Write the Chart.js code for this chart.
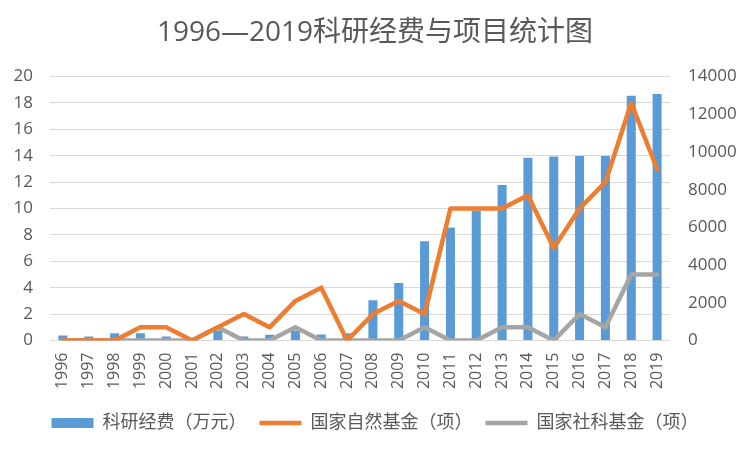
<!DOCTYPE html>
<html>
<head>
<meta charset="utf-8">
<script src="https://cdn.jsdelivr.net/npm/chart.js@4/dist/chart.umd.min.js"></script>
<style>
html,body{margin:0;padding:0;background:#fff;}
#wrap{width:750px;height:453px;position:relative;}
</style>
</head>
<body>
<div id="wrap"><canvas id="c" width="750" height="453"></canvas></div>
<script>
const years = ['1996','1997','1998','1999','2000','2001','2002','2003','2004','2005','2006','2007','2008','2009','2010','2011','2012','2013','2014','2015','2016','2017','2018','2019'];
const funding = [260, 210, 390, 390, 210, 50, 530, 210, 300, 530, 320, 390, 2130, 3050, 5270, 6000, 6880, 8250, 9690, 9760, 9790, 9790, 12990, 13080];
const nsfc = [0, 0, 0, 1, 1, 0, 1, 2, 1, 3, 4, 0, 2, 3, 2, 10, 10, 10, 11, 7, 10, 12, 18, 13];
const nssf = [0, 0, 0, 0, 0, 0, 1, 0, 0, 1, 0, 0, 0, 0, 1, 0, 0, 1, 1, 0, 2, 1, 5, 5];
const leftTicks = [0, 20, 2];
const rightTicks = [0, 14000, 2000];

const FONT = '"Open Sans", "Noto Sans CJK SC", sans-serif';
const TXT = '#595959';

new Chart(document.getElementById('c'), {
  data: {
    labels: years,
    datasets: [
      {
        type: 'line', label: '国家自然基金（项）', data: nsfc, yAxisID: 'y',
        borderColor: '#ED7D31', backgroundColor: '#ED7D31', borderWidth: 4.5,
        pointRadius: 0, tension: 0, borderJoinStyle: 'round', borderCapStyle: 'round',
        pointStyle: 'line', order: 1
      },
      {
        type: 'line', label: '国家社科基金（项）', data: nssf, yAxisID: 'y',
        borderColor: '#A5A5A5', backgroundColor: '#A5A5A5', borderWidth: 4.5,
        pointRadius: 0, tension: 0, borderJoinStyle: 'round', borderCapStyle: 'round',
        pointStyle: 'line', order: 2
      },
      {
        type: 'bar', label: '科研经费（万元）', data: funding, yAxisID: 'y1',
        backgroundColor: '#5B9BD5', borderWidth: 0,
        categoryPercentage: 1, barPercentage: 0.35, pointStyle: 'rect', order: 3
      }
    ]
  },
  options: {
    responsive: false,
    animation: false,
    devicePixelRatio: 1,
    layout: { padding: { left: 0, right: 0, top: 0, bottom: 11 } },
    plugins: {
      title: {
        display: true,
        text: '1996—2019科研经费与项目统计图',
        color: TXT,
        font: { family: FONT, size: 28, weight: 'normal' },
        padding: { top: 16, bottom: 27 }
      },
      legend: {
        position: 'bottom',
        labels: {
          usePointStyle: true,
          pointStyleWidth: 42,
          boxHeight: 10,
          padding: 13,
          color: TXT,
          font: { family: FONT, size: 18 },
          sort: (a, b) => {
            const ord = {'科研经费（万元）':0,'国家自然基金（项）':1,'国家社科基金（项）':2};
            return ord[a.text] - ord[b.text];
          }
        }
      },
      tooltip: { enabled: false }
    },
    scales: {
      x: {
        grid: { display: false, drawTicks: false },
        border: { display: false },
        ticks: {
          color: TXT, font: { family: FONT, size: 16 },
          minRotation: 90, maxRotation: 90, autoSkip: false, padding: 12
        },
        afterFit: (s) => { s.height = 60.5; }
      },
      y: {
        position: 'left',
        min: leftTicks[0], max: leftTicks[1],
        ticks: { stepSize: leftTicks[2], color: TXT, font: { family: FONT, size: 17 }, padding: 17,
                 callback: (v) => String(v) },
        grid: { color: '#D9D9D9', lineWidth: 1, drawTicks: false },
        border: { display: false },
        afterFit: (s) => { s.width = 50; }
      },
      y1: {
        position: 'right',
        min: rightTicks[0], max: rightTicks[1],
        ticks: { stepSize: rightTicks[2], color: TXT, font: { family: FONT, size: 17 }, padding: 18,
                 callback: (v) => String(v) },
        grid: { drawOnChartArea: false, drawTicks: false },
        border: { display: false },
        afterFit: (s) => { s.width = 80; }
      }
    }
  }
});
</script>
</body>
</html>
